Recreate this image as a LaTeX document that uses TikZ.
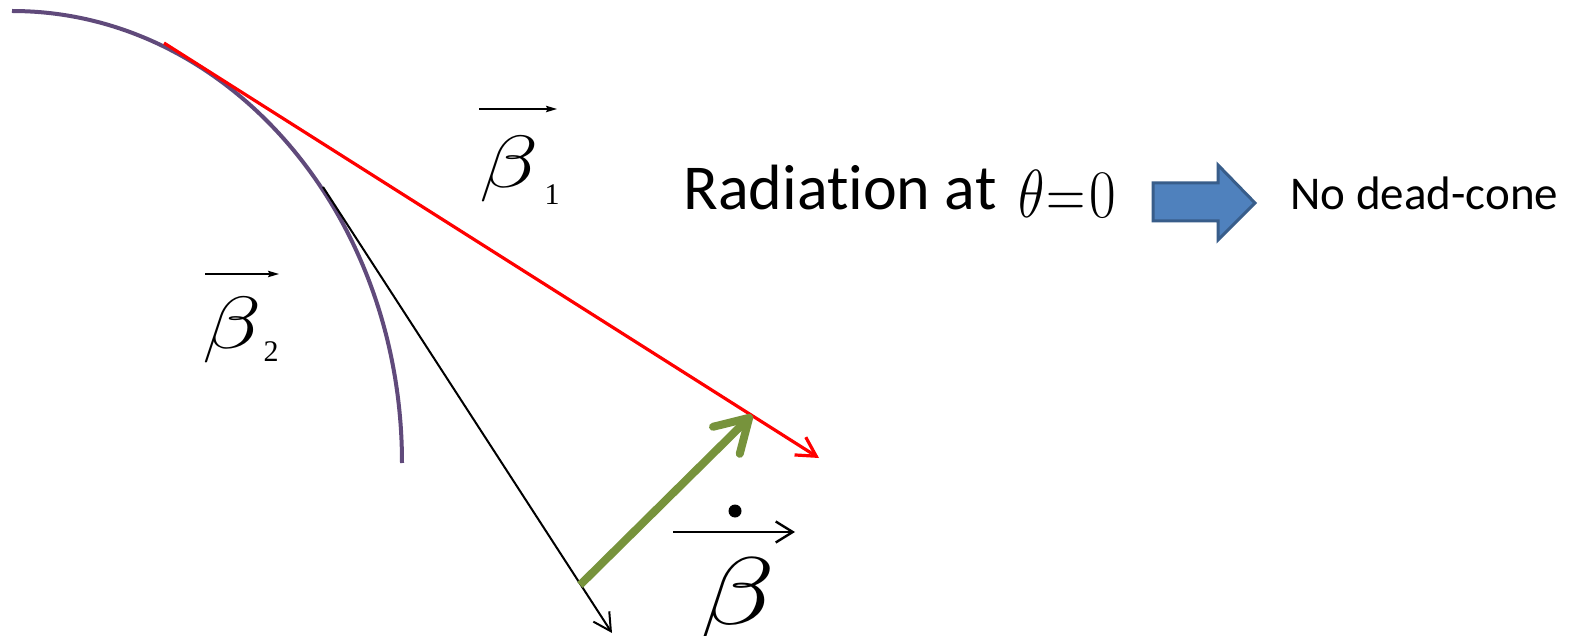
\RequirePackage{fix-cm}
\documentclass[tikz,border=0pt]{standalone}
\usepackage{fontspec}
\setmainfont{Carlito}[Ligatures=NoCommon]
\newfontfamily\tnr{Liberation Serif}
\usetikzlibrary{arrows.meta}
\definecolor{curvepurple}{HTML}{604A7B}
\definecolor{olivegreen}{HTML}{77933C}
\definecolor{blockfill}{HTML}{4F81BD}
\definecolor{blockdraw}{HTML}{385D8A}
\newcommand{\wideb}{\scalebox{1.32}[1]{$\beta$}}
\begin{document}
\begin{tikzpicture}[x=0.5pt,y=-0.5pt,
  curveline/.style={draw=curvepurple,line width=2pt},
  redvec/.style={draw=red,line width=1.6pt,-{Straight Barb[length=9.5pt,width=10.5pt]}},
  blackvec/.style={draw=black,line width=1pt,-{Straight Barb[length=8.8pt,width=9.5pt]}},
  greenvec/.style={draw=olivegreen,line width=4pt,-{Straight Barb[length=16pt,width=19pt,round]}},
  overarrow/.style={draw=black,line width=0.7pt,-{Stealth[length=5.5pt,width=3.2pt,inset=0.8pt]}},
  dotarrow/.style={draw=black,line width=1.2pt,-{Straight Barb[length=8.5pt,width=10.5pt]}},
  glyph/.style={inner sep=0pt,anchor=base,font=\fontsize{37}{37}\selectfont},
  subscr/.style={inner sep=0pt,anchor=base,font=\tnr\fontsize{15}{15}\selectfont},
  blockarrow/.style={fill=blockfill,draw=blockdraw,line width=1.5pt,line join=miter},
  txt/.style={inner sep=0pt,anchor=base west}]
\clip (0,0) rectangle (1579,636);
\fill[white] (0,0) rectangle (1579,636);

% purple trajectory
\draw[curveline] (12,11) arc[start angle=-90,end angle=0,x radius=390,y radius=452];

% vector endpoints
\coordinate (rs) at (164,43);
\coordinate (re) at (819,458);
\coordinate (bs) at (323,187);
\coordinate (be) at (612,633);
\coordinate (gs) at (580,585);
\coordinate (ge) at (752,415);

\draw[redvec] (rs) -- (re);
\draw[blackvec] (bs) -- (be);
\draw[greenvec] (gs) -- (ge);

% beta_1
\node[glyph] (b1) at (509,188) {\wideb};
\node[subscr] (b1s) at (552,205) {1};
\coordinate (a1s) at (479,109);
\coordinate (a1e) at (557,109);
\draw[overarrow] (a1s) -- (a1e);

% beta_2
\node[glyph] (b2) at (232,348) {\wideb};
\node[subscr] (b2s) at (271,361) {2};
\coordinate (a2s) at (205,274);
\coordinate (a2e) at (279,274);
\draw[overarrow] (a2s) -- (a2e);

% dot beta
\node[glyph,font=\fontsize{48}{48}\selectfont] (b3) at (737,624) {\wideb};
\fill (735,511) circle[radius=6.5];
\coordinate (a3s) at (673,532);
\coordinate (a3e) at (795,532);
\draw[dotarrow] (a3s) -- (a3e);

% text
\node[txt,font=\fontsize{32}{32}\selectfont] (rad) at (683,210) {Radiation at};
\node[txt,font=\fontsize{34}{34}\selectfont] (th) at (1018,218) {\scalebox{0.8}[1]{$\theta$}\kern1pt\scalebox{0.8}[1]{$=$}\kern2pt\scalebox{0.85}[1]{$0$}};
\draw[blockarrow] (1153,183) -- (1218,183) -- (1218,165) -- (1255,203) -- (1218,240) -- (1218,221) -- (1153,221) -- cycle;
\node[txt,font=\fontsize{23.5}{23.5}\selectfont] (nd) at (1290,210) {No dead-cone};
\end{tikzpicture}
\end{document}
